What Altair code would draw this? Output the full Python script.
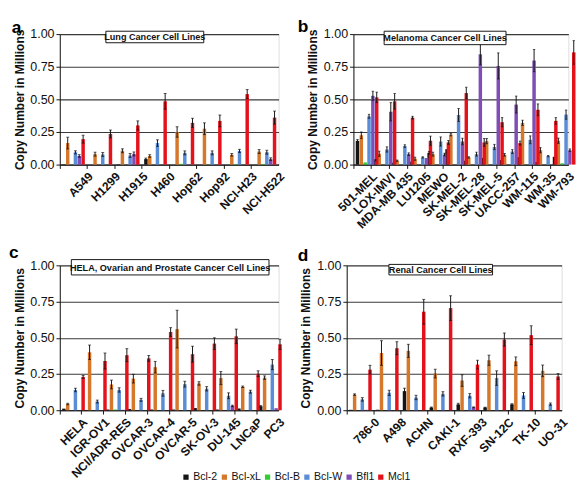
import altair as alt
import pandas as pd

SERIES = ["Bcl-2", "Bcl-xL", "Bcl-B", "Bcl-W", "Bfl1", "Mcl1"]
COLORS = ["#151515", "#D5782C", "#33CC33", "#5A8DD6", "#7E4DB5", "#E5121C"]

# ---------------- panel a : lung ----------------
A_LINES = ["A549", "H1299", "H1915", "H460", "Hop62", "Hop92", "NCI-H23", "NCI-H522"]
A_BCL2 = [0.003, 0.0, 0.003, 0.042, 0.0, 0.0, 0.0, 0.0]
A_BCLXL = [0.165, 0.08, 0.106, 0.066, 0.25, 0.275, 0.075, 0.10]
A_BCLB = [0.0, 0.0, 0.0, 0.0, 0.006, 0.002, 0.004, 0.005]
A_BCLW = [0.094, 0.078, 0.07, 0.165, 0.09, 0.09, 0.105, 0.095]
A_BFL1 = [0.066, 0.0, 0.082, 0.0, 0.003, 0.0, 0.0, 0.042]
A_MCL1 = [0.195, 0.235, 0.30, 0.485, 0.32, 0.335, 0.54, 0.36]
A_ERR_BCL2 = [0, 0, 0, 0.008, 0, 0, 0, 0]
A_ERR_BCLXL = [0.045, 0.015, 0.015, 0.01, 0.04, 0.045, 0.01, 0.015]
A_ERR_BCLB = [0, 0, 0, 0, 0, 0, 0, 0]
A_ERR_BCLW = [0.012, 0.015, 0.015, 0.025, 0.015, 0.015, 0.012, 0.015]
A_ERR_BFL1 = [0.01, 0, 0.015, 0, 0, 0, 0, 0.01]
A_ERR_MCL1 = [0.03, 0.03, 0.035, 0.06, 0.035, 0.045, 0.035, 0.05]

# ---------------- panel b : melanoma ----------------
B_LINES = ["501-MEL", "LOX-IMVI", "MDA-MB 435", "LU1205", "MEWO", "SK-MEL-2",
           "SK-MEL-28", "SK-MEL-5", "UACC-257", "WM-115", "WM-35", "WM-793"]
B_BCL2 = [0.182, 0.033, 0.015, 0.022, 0.09, 0.118, 0.03, 0.052, 0.035, 0.057, 0.02, 0.06]
B_BCLXL = [0.225, 0.083, 0.03, 0.045, 0.08, 0.23, 0.055, 0.18, 0.075, 0.32, 0.11, 0.183]
B_BCLB = [0.017, 0.0, 0.0, 0.0, 0.0, 0.0, 0.0, 0.0, 0.0, 0.0, 0.0, 0.01]
B_BCLW = [0.37, 0.116, 0.142, 0.055, 0.177, 0.38, 0.08, 0.135, 0.10, 0.19, 0.065, 0.383]
B_BFL1 = [0.527, 0.405, 0.08, 0.05, 0.077, 0.177, 0.845, 0.756, 0.46, 0.797, 0.0, 0.11]
B_MCL1 = [0.515, 0.485, 0.36, 0.183, 0.17, 0.548, 0.17, 0.325, 0.165, 0.42, 0.335, 0.86]
B_ERR_BCL2 = [0.01, 0.005, 0, 0, 0.01, 0, 0, 0, 0, 0, 0, 0]
B_ERR_BCLXL = [0.025, 0.02, 0.005, 0.012, 0.015, 0.01, 0.005, 0.02, 0.01, 0.02, 0.02, 0.02]
B_ERR_BCLB = [0, 0, 0, 0, 0, 0, 0, 0, 0, 0, 0, 0]
B_ERR_BCLW = [0.015, 0.02, 0.01, 0.005, 0.035, 0.05, 0.015, 0.02, 0.015, 0.03, 0.005, 0.035]
B_ERR_BFL1 = [0.035, 0.07, 0.01, 0, 0.01, 0.025, 0.08, 0.10, 0.065, 0.085, 0, 0.01]
B_ERR_MCL1 = [0.04, 0.06, 0.01, 0.035, 0.015, 0.045, 0.03, 0.035, 0.015, 0.045, 0.025, 0.09]

# ---------------- panel c : HELA, ovarian, prostate ----------------
C_LINES = ["HELA", "IGR-OV1", "NCI/ADR-RES", "OVCAR-3", "OVCAR-4", "OVCAR-5",
           "SK-OV-3", "DU-145", "LNCaP", "PC3"]
C_BCL2 = [0.011, 0.002, 0.005, 0.008, 0.005, 0.005, 0.015, 0.005, 0.012, 0.027]
C_BCLXL = [0.043, 0.40, 0.178, 0.218, 0.297, 0.56, 0.185, 0.222, 0.162, 0.225]
C_BCLB = [0.0, 0.0, 0.005, 0.0, 0.0, 0.0, 0.0, 0.0, 0.0, 0.0]
C_BCLW = [0.14, 0.06, 0.14, 0.072, 0.117, 0.18, 0.148, 0.10, 0.128, 0.315]
C_BFL1 = [0.0, 0.0, 0.003, 0.0, 0.0, 0.0, 0.0, 0.03, 0.0, 0.014]
C_MCL1 = [0.23, 0.34, 0.38, 0.358, 0.54, 0.387, 0.46, 0.51, 0.252, 0.455]
C_ERR_BCL2 = [0, 0, 0, 0, 0, 0, 0, 0, 0, 0.005]
C_ERR_BCLXL = [0.005, 0.05, 0.03, 0.03, 0.04, 0.13, 0.012, 0.045, 0.005, 0.012]
C_ERR_BCLB = [0, 0, 0, 0, 0, 0, 0, 0, 0, 0]
C_ERR_BCLW = [0.012, 0.01, 0.015, 0.01, 0.02, 0.02, 0.015, 0.02, 0.01, 0.035]
C_ERR_BFL1 = [0, 0, 0, 0, 0, 0, 0, 0.005, 0, 0]
C_ERR_MCL1 = [0.01, 0.055, 0.045, 0.02, 0.03, 0.055, 0.04, 0.05, 0.02, 0.035]

# ---------------- panel d : renal ----------------
D_LINES = ["786-0", "A498", "ACHN", "CAKI-1", "RXF-393", "SN-12C", "TK-10", "UO-31"]
D_BCL2 = [0.003, 0.004, 0.132, 0.018, 0.04, 0.018, 0.04, 0.0]
D_BCLXL = [0.108, 0.395, 0.41, 0.253, 0.205, 0.345, 0.338, 0.272]
D_BCLB = [0.0, 0.0, 0.0, 0.0, 0.0, 0.0, 0.0, 0.0]
D_BCLW = [0.075, 0.12, 0.088, 0.113, 0.10, 0.222, 0.102, 0.042]
D_BFL1 = [0.003, 0.0, 0.0, 0.0, 0.02, 0.0, 0.0, 0.0]
D_MCL1 = [0.28, 0.428, 0.68, 0.705, 0.315, 0.488, 0.518, 0.233]
D_ERR_BCL2 = [0, 0, 0.02, 0.004, 0.008, 0.003, 0.005, 0]
D_ERR_BCLXL = [0.005, 0.085, 0.045, 0.03, 0.04, 0.035, 0.03, 0.04]
D_ERR_BCLB = [0, 0, 0, 0, 0, 0, 0, 0]
D_ERR_BCLW = [0.012, 0.018, 0.015, 0.015, 0.015, 0.05, 0.02, 0.008]
D_ERR_BFL1 = [0, 0, 0, 0, 0.003, 0, 0, 0]
D_ERR_MCL1 = [0.03, 0.045, 0.085, 0.085, 0.03, 0.045, 0.065, 0.02]

FONT = "Liberation Sans"
YTITLE = "Copy Number in Millions"


def frame(lines, means, errs):
    rows = []
    for s, mv, ev in zip(SERIES, means, errs):
        for ln, m, e in zip(lines, mv, ev):
            rows.append({"line": ln, "series": s, "mean": m, "err": e})
    return pd.DataFrame(rows)


def panel(lines, means, errs, letter, title, w, h, box, letter_xy, cap):
    df = frame(lines, means, errs)
    step = w / len(lines)
    xs = alt.Scale(paddingInner=0, paddingOuter=0)
    xo = alt.XOffset("series:N", sort=SERIES,
                     scale=alt.Scale(paddingInner=0.1, paddingOuter=0.6))
    x_axis = alt.Axis(labelAngle=-45, labelAlign="right", labelBaseline="middle",
                      labelFontWeight="bold", labelFontSize=12.5, labelColor="#111",
                      bandPosition=0, labelOffset=step / 2 + 4, labelPadding=6,
                      tickSize=4, tickColor="#111", domainColor="#111",
                      labelOverlap=False, labelFont=FONT, title=None)
    y_scale = alt.Scale(domain=[0, 1])
    y_axis = alt.Axis(values=[0, 0.25, 0.5, 0.75, 1.0], format=".2f", title=YTITLE,
                      titleFontWeight="bold", titleFontSize=12.5, titleColor="#111",
                      titlePadding=4, labelFontSize=13, labelColor="#111",
                      labelPadding=2, tickSize=4, tickColor="#111",
                      domainColor="#111", grid=True, gridColor="#3a3a3a",
                      gridWidth=1.2, labelFont=FONT, titleFont=FONT)
    color = alt.Color("series:N", sort=SERIES,
                      scale=alt.Scale(domain=SERIES, range=COLORS),
                      legend=alt.Legend(title=None, orient="none", direction="horizontal",
                                        legendX=126, legendY=456, symbolType="square",
                                        symbolSize=30, symbolStrokeWidth=0,
                                        labelFontSize=11, labelFont=FONT,
                                        labelColor="#111", columnPadding=1,
                                        labelOffset=2))
    base = alt.Chart(df)
    xenc = alt.X("line:N", sort=lines, title=None, scale=xs, axis=x_axis)
    bars = base.mark_bar().encode(
        x=xenc,
        xOffset=xo,
        y=alt.Y("mean:Q", scale=y_scale, axis=y_axis, title=YTITLE),
        color=color,
    )
    eb = base.transform_filter("datum.err > 0").transform_calculate(
        lo="datum.mean - datum.err", hi="datum.mean + datum.err")
    rules = eb.mark_rule(color="#111", strokeWidth=1).encode(
        x=xenc, xOffset=xo,
        y=alt.Y("lo:Q", scale=y_scale, axis=y_axis, title=YTITLE), y2="hi:Q")
    cap_hi = eb.mark_tick(color="#111", thickness=1, size=cap).encode(
        x=xenc, xOffset=xo, y=alt.Y("hi:Q", scale=y_scale, axis=y_axis, title=YTITLE))
    cap_lo = eb.mark_tick(color="#111", thickness=1, size=cap).encode(
        x=xenc, xOffset=xo, y=alt.Y("lo:Q", scale=y_scale, axis=y_axis, title=YTITLE))
    tdf = pd.DataFrame({"t": [title]})
    x1, x2, y1, y2 = box
    rect = alt.Chart(tdf).mark_rect(fill="white", stroke="#111", strokeWidth=1).encode(
        x=alt.value(x1), x2=alt.value(x2), y=alt.value(y1), y2=alt.value(y2))
    txt = alt.Chart(tdf).mark_text(font=FONT, fontSize=9.5, fontWeight="bold",
                                   color="#111", baseline="middle", align="center").encode(
        x=alt.value((x1 + x2) / 2), y=alt.value((y1 + y2) / 2 + 0.5), text="t:N")
    ldf = pd.DataFrame({"t": [letter]})
    let = alt.Chart(ldf).mark_text(font=FONT, fontSize=18, fontWeight="bold",
                                   color="#000", baseline="top", align="left").encode(
        x=alt.value(letter_xy[0]), y=alt.value(letter_xy[1]), text="t:N")
    return alt.layer(bars, rules, cap_hi, cap_lo, rect, txt, let).properties(
        width=w, height=h)


pa = panel(A_LINES, [A_BCL2, A_BCLXL, A_BCLB, A_BCLW, A_BFL1, A_MCL1],
           [A_ERR_BCL2, A_ERR_BCLXL, A_ERR_BCLB, A_ERR_BCLW, A_ERR_BFL1, A_ERR_MCL1],
           "a", "Lung Cancer Cell Lines", 228, 136, (48, 150, -3, 9), (-50, -15), 3)
pb = panel(B_LINES, [B_BCL2, B_BCLXL, B_BCLB, B_BCLW, B_BFL1, B_MCL1],
           [B_ERR_BCL2, B_ERR_BCLXL, B_ERR_BCLB, B_ERR_BCLW, B_ERR_BFL1, B_ERR_MCL1],
           "b", "Melanoma Cancer Cell Lines", 224, 136, (32, 159, -3, 11), (-58, -16), 2.5)
pc = panel(C_LINES, [C_BCL2, C_BCLXL, C_BCLB, C_BCLW, C_BFL1, C_MCL1],
           [C_ERR_BCL2, C_ERR_BCLXL, C_ERR_BCLB, C_ERR_BCLW, C_ERR_BFL1, C_ERR_MCL1],
           "c", "HELA, Ovarian and Prostate Cancer Cell Lines", 228, 151,
           (12, 218, -6, 10), (-53, -22), 3)
pd_ = panel(D_LINES, [D_BCL2, D_BCLXL, D_BCLB, D_BCLW, D_BFL1, D_MCL1],
            [D_ERR_BCL2, D_ERR_BCLXL, D_ERR_BCLB, D_ERR_BCLW, D_ERR_BFL1, D_ERR_MCL1],
            "d", "Renal Cancer Cell Lines", 224, 151, (44, 152, -1, 10), (-51, -19), 3)

chart = alt.vconcat(
    alt.hconcat(pa, pb, spacing=10),
    alt.hconcat(pc, pd_, spacing=10),
    spacing=12,
).properties(padding=0).configure_view(stroke="#222", strokeWidth=1).configure(
    font=FONT)

chart.save("out.html", embed_options={"renderer": "svg", "actions": False})
